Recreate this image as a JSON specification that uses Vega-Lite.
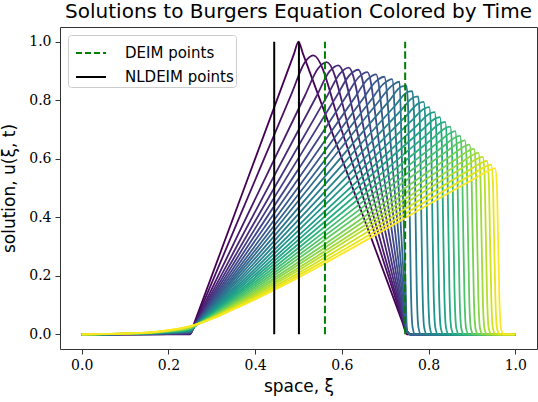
{
"$schema": "https://vega.github.io/schema/vega-lite/v6.json",
"width": 477, "height": 322,
"autosize": {"type": "none"},
"padding": {"left": 60, "top": 27, "right": 1, "bottom": 53},
"background": "white",
"config": {
 "view": {"stroke": "#333", "strokeWidth": 1},
 "axis": {"grid": false, "domain": false, "tickColor": "#333", "tickSize": 5, "labelFont": "DejaVu Serif", "labelFontSize": 14, "labelColor": "#000", "labelPadding": 4, "titleFont": "DejaVu Sans", "titleFontWeight": "normal", "titleFontSize": 17, "titleColor": "#000"},
 "legend": {"orient": "none", "legendX": 8, "legendY": 8, "symbolType": "stroke", "symbolSize": 900, "symbolStrokeWidth": 2, "symbolOffset": 5, "labelFont": "DejaVu Sans", "labelFontSize": 15, "labelColor": "#000", "strokeColor": "#ccc", "fillColor": "white", "padding": 2, "cornerRadius": 3, "rowPadding": -7, "labelOffset": 18}
},
"title": {"text": "Solutions to Burgers Equation Colored by Time", "font": "DejaVu Sans", "fontSize": 20, "fontWeight": "normal", "color": "#000", "offset": 5},
"resolve": {"scale": {"color": "independent"}},
"layer": [
{
"data": {"values": [
{"k":0,"x":0,"u":0},{"k":0,"x":0.25,"u":0},{"k":0,"x":0.26,"u":0.04},{"k":0,"x":0.49,"u":0.96},{"k":0,"x":0.5,"u":1},{"k":0,"x":0.51,"u":0.96},{"k":0,"x":0.74,"u":0.04},{"k":0,"x":0.75,"u":0},{"k":0,"x":1,"u":0},
{"k":1,"x":0,"u":0},{"k":1,"x":0.15,"u":0.0002},{"k":1,"x":0.2,"u":0.0005},{"k":1,"x":0.25,"u":0.001},{"k":1,"x":0.26,"u":0.036},{"k":1,"x":0.3,"u":0.176},{"k":1,"x":0.35,"u":0.352},{"k":1,"x":0.484,"u":0.822},{"k":1,"x":0.514,"u":0.928},{"k":1,"x":0.534,"u":0.953},{"k":1,"x":0.599,"u":0.699},{"k":1,"x":0.664,"u":0.399},{"k":1,"x":0.718,"u":0.15},{"k":1,"x":0.75,"u":0.012},{"k":1,"x":0.758,"u":0},{"k":1,"x":1,"u":0},
{"k":2,"x":0,"u":0},{"k":2,"x":0.15,"u":0.0004},{"k":2,"x":0.2,"u":0.001},{"k":2,"x":0.25,"u":0.0019},{"k":2,"x":0.26,"u":0.0325},{"k":2,"x":0.3,"u":0.155},{"k":2,"x":0.35,"u":0.308},{"k":2,"x":0.515,"u":0.816},{"k":2,"x":0.545,"u":0.908},{"k":2,"x":0.565,"u":0.93},{"k":2,"x":0.6205,"u":0.679},{"k":2,"x":0.676,"u":0.388},{"k":2,"x":0.7223,"u":0.1455},{"k":2,"x":0.75,"u":0.012},{"k":2,"x":0.758,"u":0},{"k":2,"x":1,"u":0},
{"k":3,"x":0,"u":0},{"k":3,"x":0.15,"u":0.0006},{"k":3,"x":0.2,"u":0.0014},{"k":3,"x":0.25,"u":0.0029},{"k":3,"x":0.26,"u":0.0304},{"k":3,"x":0.3,"u":0.1408},{"k":3,"x":0.35,"u":0.2796},{"k":3,"x":0.542,"u":0.815},{"k":3,"x":0.572,"u":0.899},{"k":3,"x":0.592,"u":0.919},{"k":3,"x":0.6394,"u":0.6685},{"k":3,"x":0.6868,"u":0.382},{"k":3,"x":0.7263,"u":0.1433},{"k":3,"x":0.75,"u":0.012},{"k":3,"x":0.758,"u":0},{"k":3,"x":1,"u":0},
{"k":4,"x":0,"u":0},{"k":4,"x":0.15,"u":0.0008},{"k":4,"x":0.2,"u":0.0019},{"k":4,"x":0.25,"u":0.0039},{"k":4,"x":0.26,"u":0.0291},{"k":4,"x":0.3,"u":0.1306},{"k":4,"x":0.35,"u":0.2583},{"k":4,"x":0.566,"u":0.814},{"k":4,"x":0.596,"u":0.8915},{"k":4,"x":0.616,"u":0.911},{"k":4,"x":0.6562,"u":0.66},{"k":4,"x":0.6964,"u":0.377},{"k":4,"x":0.7299,"u":0.1415},{"k":4,"x":0.75,"u":0.012},{"k":4,"x":0.758,"u":0},{"k":4,"x":1,"u":0},
{"k":5,"x":0,"u":0},{"k":5,"x":0.15,"u":0.001},{"k":5,"x":0.2,"u":0.0024},{"k":5,"x":0.25,"u":0.0048},{"k":5,"x":0.26,"u":0.0282},{"k":5,"x":0.3,"u":0.1225},{"k":5,"x":0.35,"u":0.2414},{"k":5,"x":0.588,"u":0.814},{"k":5,"x":0.618,"u":0.886},{"k":5,"x":0.638,"u":0.904},{"k":5,"x":0.6716,"u":0.654},{"k":5,"x":0.7052,"u":0.3736},{"k":5,"x":0.7332,"u":0.1401},{"k":5,"x":0.75,"u":0.012},{"k":5,"x":0.758,"u":0},{"k":5,"x":1,"u":0},
{"k":6,"x":0,"u":0},{"k":6,"x":0.15,"u":0.0012},{"k":6,"x":0.2,"u":0.0029},{"k":6,"x":0.25,"u":0.0058},{"k":6,"x":0.26,"u":0.0276},{"k":6,"x":0.3,"u":0.1155},{"k":6,"x":0.35,"u":0.2267},{"k":6,"x":0.609,"u":0.811},{"k":6,"x":0.639,"u":0.879},{"k":6,"x":0.659,"u":0.896},{"k":6,"x":0.6863,"u":0.647},{"k":6,"x":0.7136,"u":0.37},{"k":6,"x":0.7364,"u":0.1386},{"k":6,"x":0.75,"u":0.012},{"k":6,"x":0.758,"u":0},{"k":6,"x":1,"u":0},
{"k":7,"x":0,"u":0},{"k":7,"x":0.15,"u":0.0014},{"k":7,"x":0.2,"u":0.0034},{"k":7,"x":0.25,"u":0.0068},{"k":7,"x":0.26,"u":0.0271},{"k":7,"x":0.3,"u":0.1095},{"k":7,"x":0.35,"u":0.2141},{"k":7,"x":0.629,"u":0.807},{"k":7,"x":0.659,"u":0.871},{"k":7,"x":0.679,"u":0.888},{"k":7,"x":0.7003,"u":0.64},{"k":7,"x":0.7216,"u":0.3656},{"k":7,"x":0.7394,"u":0.1371},{"k":7,"x":0.75,"u":0.012},{"k":7,"x":0.758,"u":0},{"k":7,"x":1,"u":0},
{"k":8,"x":0,"u":0},{"k":8,"x":0.15,"u":0.0017},{"k":8,"x":0.2,"u":0.0039},{"k":8,"x":0.25,"u":0.0077},{"k":8,"x":0.26,"u":0.0268},{"k":8,"x":0.3,"u":0.1042},{"k":8,"x":0.35,"u":0.2029},{"k":8,"x":0.648,"u":0.803},{"k":8,"x":0.678,"u":0.8636},{"k":8,"x":0.698,"u":0.88},{"k":8,"x":0.7136,"u":0.633},{"k":8,"x":0.7292,"u":0.3616},{"k":8,"x":0.7422,"u":0.1356},{"k":8,"x":0.75,"u":0.012},{"k":8,"x":0.758,"u":0},{"k":8,"x":1,"u":0},
{"k":9,"x":0,"u":0},{"k":9,"x":0.15,"u":0.0019},{"k":9,"x":0.2,"u":0.0043},{"k":9,"x":0.25,"u":0.0087},{"k":9,"x":0.26,"u":0.0266},{"k":9,"x":0.3,"u":0.0996},{"k":9,"x":0.35,"u":0.193},{"k":9,"x":0.666,"u":0.798},{"k":9,"x":0.696,"u":0.8556},{"k":9,"x":0.716,"u":0.872},{"k":9,"x":0.7262,"u":0.6258},{"k":9,"x":0.7364,"u":0.3576},{"k":9,"x":0.7449,"u":0.1341},{"k":9,"x":0.75,"u":0.012},{"k":9,"x":0.758,"u":0},{"k":9,"x":1,"u":0},
{"k":10,"x":0,"u":0},{"k":10,"x":0.15,"u":0.0021},{"k":10,"x":0.2,"u":0.0048},{"k":10,"x":0.25,"u":0.0097},{"k":10,"x":0.26,"u":0.0266},{"k":10,"x":0.3,"u":0.0955},{"k":10,"x":0.35,"u":0.1842},{"k":10,"x":0.683,"u":0.792},{"k":10,"x":0.713,"u":0.8464},{"k":10,"x":0.733,"u":0.863},{"k":10,"x":0.7381,"u":0.618},{"k":10,"x":0.7432,"u":0.3532},{"k":10,"x":0.7475,"u":0.1325},{"k":10,"x":0.75,"u":0.012},{"k":10,"x":0.758,"u":0},{"k":10,"x":1,"u":0},
{"k":11,"x":0,"u":0},{"k":11,"x":0.15,"u":0.0023},{"k":11,"x":0.2,"u":0.0053},{"k":11,"x":0.25,"u":0.0106},{"k":11,"x":0.26,"u":0.0265},{"k":11,"x":0.3,"u":0.0915},{"k":11,"x":0.35,"u":0.1752},{"k":11,"x":0.709,"u":0.7975},{"k":11,"x":0.737,"u":0.846},{"k":11,"x":0.749,"u":0.849},{"k":11,"x":0.753,"u":0.764},{"k":11,"x":0.756,"u":0.467},{"k":11,"x":0.759,"u":0.17},{"k":11,"x":0.763,"u":0.025},{"k":11,"x":0.769,"u":0},{"k":11,"x":1,"u":0},
{"k":12,"x":0,"u":0},{"k":12,"x":0.15,"u":0.0025},{"k":12,"x":0.2,"u":0.0058},{"k":12,"x":0.25,"u":0.0116},{"k":12,"x":0.26,"u":0.0264},{"k":12,"x":0.3,"u":0.0877},{"k":12,"x":0.35,"u":0.167},{"k":12,"x":0.7225,"u":0.781},{"k":12,"x":0.7505,"u":0.8272},{"k":12,"x":0.7625,"u":0.831},{"k":12,"x":0.7665,"u":0.748},{"k":12,"x":0.7695,"u":0.457},{"k":12,"x":0.7725,"u":0.166},{"k":12,"x":0.7765,"u":0.025},{"k":12,"x":0.7825,"u":0},{"k":12,"x":1,"u":0},
{"k":13,"x":0,"u":0},{"k":13,"x":0.15,"u":0.0027},{"k":13,"x":0.2,"u":0.0063},{"k":13,"x":0.25,"u":0.0126},{"k":13,"x":0.26,"u":0.0265},{"k":13,"x":0.3,"u":0.0841},{"k":13,"x":0.35,"u":0.1591},{"k":13,"x":0.7358,"u":0.764},{"k":13,"x":0.7638,"u":0.8081},{"k":13,"x":0.7758,"u":0.813},{"k":13,"x":0.7798,"u":0.732},{"k":13,"x":0.7828,"u":0.447},{"k":13,"x":0.7858,"u":0.163},{"k":13,"x":0.7898,"u":0.024},{"k":13,"x":0.7958,"u":0},{"k":13,"x":1,"u":0},
{"k":14,"x":0,"u":0},{"k":14,"x":0.15,"u":0.0029},{"k":14,"x":0.2,"u":0.0068},{"k":14,"x":0.25,"u":0.0135},{"k":14,"x":0.26,"u":0.0266},{"k":14,"x":0.3,"u":0.0807},{"k":14,"x":0.35,"u":0.1517},{"k":14,"x":0.7488,"u":0.747},{"k":14,"x":0.7768,"u":0.789},{"k":14,"x":0.7888,"u":0.794},{"k":14,"x":0.7928,"u":0.715},{"k":14,"x":0.7958,"u":0.437},{"k":14,"x":0.7988,"u":0.159},{"k":14,"x":0.8028,"u":0.024},{"k":14,"x":0.8088,"u":0},{"k":14,"x":1,"u":0},
{"k":15,"x":0,"u":0},{"k":15,"x":0.15,"u":0.0031},{"k":15,"x":0.2,"u":0.0072},{"k":15,"x":0.25,"u":0.0145},{"k":15,"x":0.26,"u":0.0267},{"k":15,"x":0.3,"u":0.0777},{"k":15,"x":0.35,"u":0.145},{"k":15,"x":0.7615,"u":0.731},{"k":15,"x":0.7895,"u":0.7709},{"k":15,"x":0.8015,"u":0.776},{"k":15,"x":0.8055,"u":0.698},{"k":15,"x":0.8085,"u":0.427},{"k":15,"x":0.8115,"u":0.155},{"k":15,"x":0.8155,"u":0.023},{"k":15,"x":0.8215,"u":0},{"k":15,"x":1,"u":0},
{"k":16,"x":0,"u":0},{"k":16,"x":0.15,"u":0.0033},{"k":16,"x":0.2,"u":0.0077},{"k":16,"x":0.25,"u":0.0154},{"k":16,"x":0.26,"u":0.0269},{"k":16,"x":0.3,"u":0.0749},{"k":16,"x":0.35,"u":0.1387},{"k":16,"x":0.774,"u":0.715},{"k":16,"x":0.802,"u":0.7536},{"k":16,"x":0.814,"u":0.759},{"k":16,"x":0.818,"u":0.683},{"k":16,"x":0.821,"u":0.417},{"k":16,"x":0.824,"u":0.152},{"k":16,"x":0.828,"u":0.023},{"k":16,"x":0.834,"u":0},{"k":16,"x":1,"u":0},
{"k":17,"x":0,"u":0},{"k":17,"x":0.15,"u":0.0035},{"k":17,"x":0.2,"u":0.0082},{"k":17,"x":0.25,"u":0.0164},{"k":17,"x":0.26,"u":0.0272},{"k":17,"x":0.3,"u":0.0723},{"k":17,"x":0.35,"u":0.1328},{"k":17,"x":0.7862,"u":0.7},{"k":17,"x":0.8142,"u":0.7363},{"k":17,"x":0.8262,"u":0.742},{"k":17,"x":0.8302,"u":0.668},{"k":17,"x":0.8332,"u":0.408},{"k":17,"x":0.8362,"u":0.148},{"k":17,"x":0.8402,"u":0.022},{"k":17,"x":0.8462,"u":0},{"k":17,"x":1,"u":0},
{"k":18,"x":0,"u":0},{"k":18,"x":0.15,"u":0.0037},{"k":18,"x":0.2,"u":0.0087},{"k":18,"x":0.25,"u":0.0174},{"k":18,"x":0.26,"u":0.0274},{"k":18,"x":0.3,"u":0.0699},{"k":18,"x":0.35,"u":0.1275},{"k":18,"x":0.7982,"u":0.685},{"k":18,"x":0.8262,"u":0.72},{"k":18,"x":0.8382,"u":0.726},{"k":18,"x":0.8422,"u":0.653},{"k":18,"x":0.8452,"u":0.399},{"k":18,"x":0.8482,"u":0.145},{"k":18,"x":0.8522,"u":0.022},{"k":18,"x":0.8582,"u":0},{"k":18,"x":1,"u":0},
{"k":19,"x":0,"u":0},{"k":19,"x":0.15,"u":0.0039},{"k":19,"x":0.2,"u":0.0092},{"k":19,"x":0.25,"u":0.0183},{"k":19,"x":0.26,"u":0.0277},{"k":19,"x":0.3,"u":0.0678},{"k":19,"x":0.35,"u":0.1223},{"k":19,"x":0.8099,"u":0.67},{"k":19,"x":0.8379,"u":0.7036},{"k":19,"x":0.8499,"u":0.71},{"k":19,"x":0.8539,"u":0.639},{"k":19,"x":0.8569,"u":0.3905},{"k":19,"x":0.8599,"u":0.142},{"k":19,"x":0.8639,"u":0.0213},{"k":19,"x":0.8699,"u":0},{"k":19,"x":1,"u":0},
{"k":20,"x":0,"u":0},{"k":20,"x":0.15,"u":0.0041},{"k":20,"x":0.2,"u":0.0097},{"k":20,"x":0.25,"u":0.0193},{"k":20,"x":0.26,"u":0.0281},{"k":20,"x":0.3,"u":0.0657},{"k":20,"x":0.35,"u":0.1175},{"k":20,"x":0.8214,"u":0.655},{"k":20,"x":0.8494,"u":0.6872},{"k":20,"x":0.8614,"u":0.694},{"k":20,"x":0.8654,"u":0.6246},{"k":20,"x":0.8684,"u":0.3817},{"k":20,"x":0.8714,"u":0.1388},{"k":20,"x":0.8754,"u":0.0208},{"k":20,"x":0.8814,"u":0},{"k":20,"x":1,"u":0},
{"k":21,"x":0,"u":0},{"k":21,"x":0.15,"u":0.0043},{"k":21,"x":0.2,"u":0.0101},{"k":21,"x":0.25,"u":0.0203},{"k":21,"x":0.26,"u":0.0284},{"k":21,"x":0.3,"u":0.0637},{"k":21,"x":0.35,"u":0.1129},{"k":21,"x":0.8326,"u":0.641},{"k":21,"x":0.8606,"u":0.6718},{"k":21,"x":0.8726,"u":0.678},{"k":21,"x":0.8766,"u":0.61},{"k":21,"x":0.8796,"u":0.373},{"k":21,"x":0.8826,"u":0.1356},{"k":21,"x":0.8866,"u":0.0203},{"k":21,"x":0.8926,"u":0},{"k":21,"x":1,"u":0},
{"k":22,"x":0,"u":0},{"k":22,"x":0.15,"u":0.0046},{"k":22,"x":0.2,"u":0.0106},{"k":22,"x":0.25,"u":0.0212},{"k":22,"x":0.26,"u":0.0288},{"k":22,"x":0.3,"u":0.0619},{"k":22,"x":0.35,"u":0.1086},{"k":22,"x":0.8436,"u":0.627},{"k":22,"x":0.8716,"u":0.6563},{"k":22,"x":0.8836,"u":0.663},{"k":22,"x":0.8876,"u":0.5967},{"k":22,"x":0.8906,"u":0.3647},{"k":22,"x":0.8936,"u":0.1326},{"k":22,"x":0.8976,"u":0.0199},{"k":22,"x":0.9036,"u":0},{"k":22,"x":1,"u":0},
{"k":23,"x":0,"u":0},{"k":23,"x":0.15,"u":0.0048},{"k":23,"x":0.2,"u":0.0111},{"k":23,"x":0.25,"u":0.0222},{"k":23,"x":0.26,"u":0.0292},{"k":23,"x":0.3,"u":0.0603},{"k":23,"x":0.35,"u":0.1047},{"k":23,"x":0.8543,"u":0.613},{"k":23,"x":0.8823,"u":0.6418},{"k":23,"x":0.8943,"u":0.648},{"k":23,"x":0.8983,"u":0.5832},{"k":23,"x":0.9013,"u":0.3564},{"k":23,"x":0.9043,"u":0.1296},{"k":23,"x":0.9083,"u":0.0194},{"k":23,"x":0.9143,"u":0},{"k":23,"x":1,"u":0},
{"k":24,"x":0,"u":0},{"k":24,"x":0.15,"u":0.005},{"k":24,"x":0.2,"u":0.0116},{"k":24,"x":0.25,"u":0.0232},{"k":24,"x":0.26,"u":0.0297},{"k":24,"x":0.3,"u":0.0587},{"k":24,"x":0.35,"u":0.1009},{"k":24,"x":0.8648,"u":0.6},{"k":24,"x":0.8928,"u":0.6273},{"k":24,"x":0.9048,"u":0.634},{"k":24,"x":0.9088,"u":0.5706},{"k":24,"x":0.9118,"u":0.3487},{"k":24,"x":0.9148,"u":0.1268},{"k":24,"x":0.9188,"u":0.019},{"k":24,"x":0.9248,"u":0},{"k":24,"x":1,"u":0},
{"k":25,"x":0,"u":0},{"k":25,"x":0.15,"u":0.0052},{"k":25,"x":0.2,"u":0.0121},{"k":25,"x":0.25,"u":0.0241},{"k":25,"x":0.26,"u":0.0301},{"k":25,"x":0.3,"u":0.0573},{"k":25,"x":0.35,"u":0.0974},{"k":25,"x":0.875,"u":0.587},{"k":25,"x":0.903,"u":0.6137},{"k":25,"x":0.915,"u":0.62},{"k":25,"x":0.919,"u":0.558},{"k":25,"x":0.922,"u":0.341},{"k":25,"x":0.925,"u":0.124},{"k":25,"x":0.929,"u":0.0186},{"k":25,"x":0.935,"u":0},{"k":25,"x":1,"u":0},
{"k":26,"x":0,"u":0},{"k":26,"x":0.15,"u":0.0054},{"k":26,"x":0.2,"u":0.0126},{"k":26,"x":0.25,"u":0.0251},{"k":26,"x":0.26,"u":0.0306},{"k":26,"x":0.3,"u":0.0561},{"k":26,"x":0.35,"u":0.0941},{"k":26,"x":0.885,"u":0.575},{"k":26,"x":0.913,"u":0.6001},{"k":26,"x":0.925,"u":0.606},{"k":26,"x":0.929,"u":0.5454},{"k":26,"x":0.932,"u":0.3333},{"k":26,"x":0.935,"u":0.1212},{"k":26,"x":0.939,"u":0.0182},{"k":26,"x":0.945,"u":0},{"k":26,"x":1,"u":0},
{"k":27,"x":0,"u":0},{"k":27,"x":0.15,"u":0.0056},{"k":27,"x":0.2,"u":0.013},{"k":27,"x":0.25,"u":0.0261},{"k":27,"x":0.26,"u":0.031},{"k":27,"x":0.3,"u":0.0548},{"k":27,"x":0.35,"u":0.0909},{"k":27,"x":0.8947,"u":0.562},{"k":27,"x":0.9227,"u":0.5865},{"k":27,"x":0.9347,"u":0.593},{"k":27,"x":0.9387,"u":0.5337},{"k":27,"x":0.9417,"u":0.3262},{"k":27,"x":0.9447,"u":0.1186},{"k":27,"x":0.9487,"u":0.0178},{"k":27,"x":0.9547,"u":0},{"k":27,"x":1,"u":0},
{"k":28,"x":0,"u":0},{"k":28,"x":0.15,"u":0.0058},{"k":28,"x":0.2,"u":0.0135},{"k":28,"x":0.25,"u":0.027},{"k":28,"x":0.26,"u":0.0316},{"k":28,"x":0.3,"u":0.0537},{"k":28,"x":0.35,"u":0.088},{"k":28,"x":0.9042,"u":0.55},{"k":28,"x":0.9322,"u":0.5739},{"k":28,"x":0.9442,"u":0.58},{"k":28,"x":0.9482,"u":0.522},{"k":28,"x":0.9512,"u":0.319},{"k":28,"x":0.9542,"u":0.116},{"k":28,"x":0.9582,"u":0.0174},{"k":28,"x":0.9642,"u":0},{"k":28,"x":1,"u":0},
{"k":29,"x":0,"u":0},{"k":29,"x":0.15,"u":0.006},{"k":29,"x":0.2,"u":0.014},{"k":29,"x":0.25,"u":0.028},{"k":29,"x":0.26,"u":0.0321},{"k":29,"x":0.3,"u":0.0526},{"k":29,"x":0.35,"u":0.0852},{"k":29,"x":0.9134,"u":0.5385},{"k":29,"x":0.9414,"u":0.5613},{"k":29,"x":0.9534,"u":0.567},{"k":29,"x":0.9574,"u":0.5103},{"k":29,"x":0.9604,"u":0.3119},{"k":29,"x":0.9634,"u":0.1134},{"k":29,"x":0.9674,"u":0.017},{"k":29,"x":0.9734,"u":0},{"k":29,"x":1,"u":0}
]},
"mark": {"type": "line", "interpolate": "monotone", "strokeWidth": 1.8},
"encoding": {
 "x": {"field": "x", "type": "quantitative", "scale": {"domain": [-0.05, 1.05], "nice": false, "zero": false}, "axis": {"values": [0, 0.2, 0.4, 0.6, 0.8, 1], "format": ".1f", "title": "space, ξ", "titlePadding": 6}},
 "y": {"field": "u", "type": "quantitative", "scale": {"domain": [-0.05, 1.05], "nice": false, "zero": false}, "axis": {"values": [0, 0.2, 0.4, 0.6, 0.8, 1], "format": ".1f", "title": "solution, u(ξ, t)", "titlePadding": 10}},
 "color": {"field": "k", "type": "quantitative", "scale": {"scheme": "viridis", "domain": [0, 29]}, "legend": null},
 "detail": {"field": "k", "type": "nominal"}
}
},
{
"data": {"values": [
{"p": 0.444, "type": "NLDEIM points"},
{"p": 0.501, "type": "NLDEIM points"},
{"p": 0.561, "type": "DEIM points"},
{"p": 0.746, "type": "DEIM points"}
]},
"mark": {"type": "rule", "strokeWidth": 2},
"encoding": {
 "x": {"field": "p", "type": "quantitative"},
 "y": {"datum": 0},
 "y2": {"datum": 1},
 "color": {"field": "type", "type": "nominal", "scale": {"domain": ["DEIM points", "NLDEIM points"], "range": ["#008000", "#000000"]}, "legend": {"title": null, "encode": {"symbols": {"update": {"strokeDash": {"signal": "datum.value === 'DEIM points' ? [6, 3] : [1, 0]"}}}}}},
 "strokeDash": {"field": "type", "type": "nominal", "scale": {"domain": ["DEIM points", "NLDEIM points"], "range": [[7.4, 3.2], [1, 0]]}, "legend": null}
}
}
]
}
